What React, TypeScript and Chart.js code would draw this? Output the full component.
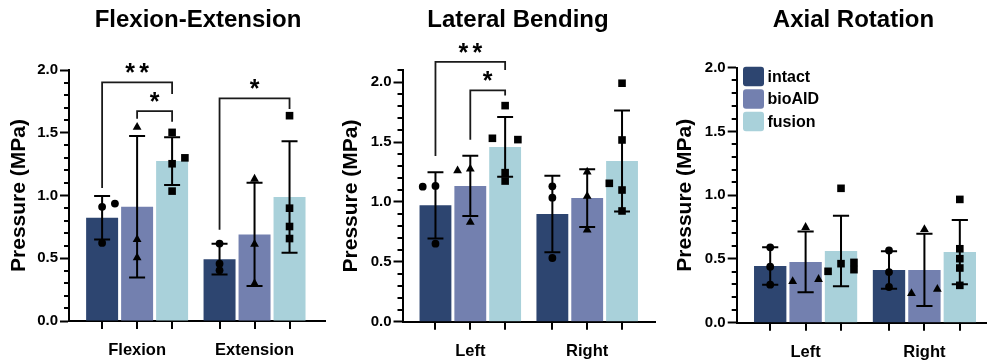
import React, { useEffect, useRef } from 'react';
import { Chart, registerables } from 'chart.js';

Chart.register(...registerables);

const FONT = "'Liberation Sans', Arial, Helvetica, sans-serif";
const INK = '#000000';

// Groups shared by every panel
const groupNames = ['intact', 'bioAID', 'fusion'];
const groupColors = ['#2D4570', '#7380AF', '#A9D1DA'];

// ---------- Flexion-Extension ----------
const feCategories = ['Flexion', 'Extension'];
const feIntactMean = [0.823, 0.493];
const feIntactSd = [0.174, 0.122];
const feBioMean = [0.91, 0.69];
const feBioSd = [0.564, 0.412];
const feFusionMean = [1.274, 0.988];
const feFusionSd = [0.19, 0.444];
const feIntactPoints = [[0.91, 0.936, 0.622], [0.617, 0.457, 0.404]];
const feIntactSide = [[0, 1, 0], [0, 0, 0]];
const feBioPoints = [[1.55, 0.654, 0.51], [1.136, 0.617, 0.303]];
const feBioSide = [[0, 0, 0], [0, 0, 0]];
const feFusionPoints = [[1.503, 1.3, 1.253, 1.035], [1.636, 0.899, 0.753, 0.657]];
const feFusionSide = [[0, 1, 0, 0], [0, 0, 0, 0]];
const feBrackets = [
  { group: 0, from: 0, to: 2, level: 1.902, fromEnd: 1.06, toEnd: 1.809, label: '**' },
  { group: 0, from: 1, to: 2, level: 1.673, fromEnd: 1.612, toEnd: 1.588, label: '*' },
  { group: 1, from: 0, to: 2, level: 1.774, fromEnd: 0.727, toEnd: 1.69, label: '*' },
];

// ---------- Lateral Bending ----------
const lbCategories = ['Left', 'Right'];
const lbIntactMean = [0.972, 0.9];
const lbIntactSd = [0.276, 0.32];
const lbBioMean = [1.134, 1.033];
const lbBioSd = [0.252, 0.241];
const lbFusionMean = [1.46, 1.342];
const lbFusionSd = [0.25, 0.422];
const lbIntactPoints = [[1.128, 1.134, 0.652], [1.131, 1.036, 0.532]];
const lbIntactSide = [[-1, 0, 0], [0, 0, 0]];
const lbBioPoints = [[1.267, 1.281, 0.836], [1.256, 1.053, 0.772]];
const lbBioSide = [[-1, 0, 0], [0, 0, 0]];
const lbFusionPoints = [[1.805, 1.532, 1.521, 1.245, 1.175], [1.992, 1.518, 1.156, 1.1, 0.925]];
const lbFusionSide = [[0, -1, 1, 0, 0], [0, 0, -1, 0, 0]];
const lbBrackets = [
  { group: 0, from: 0, to: 2, level: 2.17, fromEnd: 1.384, toEnd: 2.103, label: '**' },
  { group: 0, from: 1, to: 2, level: 1.933, fromEnd: 1.52, toEnd: 1.89, label: '*' },
];

// ---------- Axial Rotation ----------
const arCategories = ['Left', 'Right'];
const arIntactMean = [0.444, 0.414];
const arIntactSd = [0.147, 0.147];
const arBioMean = [0.477, 0.414];
const arBioSd = [0.238, 0.283];
const arFusionMean = [0.562, 0.554];
const arFusionSd = [0.277, 0.252];
const arIntactPoints = [[0.591, 0.439, 0.298], [0.567, 0.397, 0.28]];
const arIntactSide = [[0, 0, 0], [0, 0, 0]];
const arBioPoints = [[0.753, 0.329, 0.345], [0.737, 0.235, 0.267]];
const arBioSide = [[0, -1, 1], [0, -1, 1]];
const arFusionPoints = [[1.054, 0.403, 0.463, 0.473, 0.416], [0.967, 0.58, 0.502, 0.429, 0.293]];
const arFusionSide = [[0, -1, 0, 1, 1], [0, 0, 0, 0, 0]];
const arBrackets: Bracket[] = [];

type Bracket = { group: number; from: number; to: number; level: number; fromEnd: number; toEnd: number; label: string };
type Series = { mean: number[]; sd: number[]; points: number[][]; side: number[][] };
type Panel = {
  title: string;
  categories: string[];
  series: Series[];
  brackets: Bracket[];
  yMax: number;
  xMax: number;
  showLegend: boolean;
  // layout of the canvas
  canvasLeft: number;
  canvasWidth: number;
  areaTop: number;
  areaBottom: number;
  yAxisWidth: number;
  padRight: number;
  titleX: number;
};

const panels: Panel[] = [
  {
    title: 'Flexion-Extension',
    categories: feCategories,
    series: [
      { mean: feIntactMean, sd: feIntactSd, points: feIntactPoints, side: feIntactSide },
      { mean: feBioMean, sd: feBioSd, points: feBioPoints, side: feBioSide },
      { mean: feFusionMean, sd: feFusionSd, points: feFusionPoints, side: feFusionSide },
    ],
    brackets: feBrackets,
    yMax: 2.0,
    xMax: 1.6,
    showLegend: false,
    canvasLeft: 0,
    canvasWidth: 330,
    areaTop: 70,
    areaBottom: 321,
    yAxisWidth: 69,
    padRight: 5,
    titleX: 198,
  },
  {
    title: 'Lateral Bending',
    categories: lbCategories,
    series: [
      { mean: lbIntactMean, sd: lbIntactSd, points: lbIntactPoints, side: lbIntactSide },
      { mean: lbBioMean, sd: lbBioSd, points: lbBioPoints, side: lbBioSide },
      { mean: lbFusionMean, sd: lbFusionSd, points: lbFusionPoints, side: lbFusionSide },
    ],
    brackets: lbBrackets,
    yMax: 2.1,
    xMax: 1.58,
    showLegend: false,
    canvasLeft: 332,
    canvasWidth: 328,
    areaTop: 70.3,
    areaBottom: 321.7,
    yAxisWidth: 70.5,
    padRight: 5,
    titleX: 186,
  },
  {
    title: 'Axial Rotation',
    categories: arCategories,
    series: [
      { mean: arIntactMean, sd: arIntactSd, points: arIntactPoints, side: arIntactSide },
      { mean: arBioMean, sd: arBioSd, points: arBioPoints, side: arBioSide },
      { mean: arFusionMean, sd: arFusionSd, points: arFusionPoints, side: arFusionSide },
    ],
    brackets: arBrackets,
    yMax: 2.0,
    xMax: 1.6,
    showLegend: true,
    canvasLeft: 666,
    canvasWidth: 334,
    areaTop: 67.7,
    areaBottom: 322.7,
    yAxisWidth: 70.7,
    padRight: 4.3,
    titleX: 187.5,
  },
];

const CANVAS_HEIGHT = 361;
const X_MIN = -0.58;

function drawMarker(ctx: CanvasRenderingContext2D, kind: number, x: number, y: number) {
  ctx.beginPath();
  if (kind === 0) {
    ctx.arc(x, y, 3.9, 0, Math.PI * 2);
  } else if (kind === 1) {
    ctx.moveTo(x, y - 4.6);
    ctx.lineTo(x + 4.4, y + 3.2);
    ctx.lineTo(x - 4.4, y + 3.2);
    ctx.closePath();
  } else {
    ctx.rect(x - 3.8, y - 3.8, 7.6, 7.6);
  }
  ctx.fill();
}

function overlayPlugin(p: Panel) {
  return {
    id: 'panelOverlay',
    afterDraw(chart: any) {
      const ctx: CanvasRenderingContext2D = chart.ctx;
      const area = chart.chartArea;
      const yS = chart.scales.y;
      ctx.save();
      ctx.strokeStyle = INK;
      ctx.fillStyle = INK;
      ctx.lineWidth = 2;
      ctx.lineCap = 'butt';

      // minor ticks on the value axis
      const steps = Math.round(p.yMax / 0.1);
      for (let k = 1; k <= steps; k++) {
        if (k % 5 === 0) continue;
        const y = Math.round(yS.getPixelForValue(k / 10));
        ctx.beginPath();
        ctx.moveTo(area.left - 5, y);
        ctx.lineTo(area.left, y);
        ctx.stroke();
      }

      // one tick under every bar
      p.series.forEach((_, si) => {
        const meta = chart.getDatasetMeta(si);
        meta.data.forEach((bar: any) => {
          const x = Math.round(bar.x);
          ctx.beginPath();
          ctx.moveTo(x, area.bottom);
          ctx.lineTo(x, area.bottom + 8);
          ctx.stroke();
        });
      });

      // mean +/- SD error bars
      p.series.forEach((s, si) => {
        const meta = chart.getDatasetMeta(si);
        meta.data.forEach((bar: any, ci: number) => {
          const x = bar.x;
          const half = bar.width * 0.25;
          const yTop = yS.getPixelForValue(s.mean[ci] + s.sd[ci]);
          const yBot = yS.getPixelForValue(s.mean[ci] - s.sd[ci]);
          ctx.beginPath();
          ctx.moveTo(x, yTop);
          ctx.lineTo(x, yBot);
          ctx.moveTo(x - half, yTop);
          ctx.lineTo(x + half, yTop);
          ctx.moveTo(x - half, yBot);
          ctx.lineTo(x + half, yBot);
          ctx.stroke();
        });
      });

      // individual specimens
      p.series.forEach((s, si) => {
        const meta = chart.getDatasetMeta(si);
        meta.data.forEach((bar: any, ci: number) => {
          s.points[ci].forEach((v, k) => {
            const x = bar.x + s.side[ci][k] * bar.width * 0.4;
            drawMarker(ctx, si, x, yS.getPixelForValue(v));
          });
        });
      });

      // significance brackets
      ctx.strokeStyle = '#1a1a1a';
      ctx.lineWidth = 1.8;
      p.brackets.forEach((b) => {
        const x1 = chart.getDatasetMeta(b.from).data[b.group].x;
        const x2 = chart.getDatasetMeta(b.to).data[b.group].x;
        const yL = yS.getPixelForValue(b.level);
        ctx.beginPath();
        ctx.moveTo(x1, yS.getPixelForValue(b.fromEnd));
        ctx.lineTo(x1, yL);
        ctx.lineTo(x2, yL);
        ctx.lineTo(x2, yS.getPixelForValue(b.toEnd));
        ctx.stroke();
        ctx.font = `bold 25px ${FONT}`;
        ctx.textAlign = 'center';
        ctx.textBaseline = 'alphabetic';
        const pitch = 14;
        const mid = (x1 + x2) / 2;
        const n = b.label.length;
        for (let i = 0; i < n; i++) {
          ctx.fillText(b.label[i], mid + (i - (n - 1) / 2) * pitch, yL - 1);
        }
      });

      // legend
      if (p.showLegend) {
        ctx.font = `bold 16px ${FONT}`;
        ctx.textAlign = 'left';
        ctx.textBaseline = 'middle';
        chart.data.datasets.forEach((ds: any, i: number) => {
          const bx = area.left + 6.3;
          const by = area.top - 1 + i * 22.5;
          ctx.fillStyle = ds.backgroundColor;
          ctx.beginPath();
          (ctx as any).roundRect(bx, by, 21, 19.5, 3);
          ctx.fill();
          ctx.fillStyle = INK;
          ctx.fillText(ds.label, bx + 24.5, by + 10.5);
        });
      }

      // panel title
      ctx.fillStyle = INK;
      ctx.font = `bold 24px ${FONT}`;
      ctx.textAlign = 'center';
      ctx.textBaseline = 'alphabetic';
      ctx.fillText(p.title, p.titleX, 26.7);

      ctx.restore();
    },
  };
}

function makeConfig(p: Panel): any {
  return {
    type: 'bar',
    data: {
      datasets: p.series.map((s, si) => ({
        label: groupNames[si],
        data: p.categories.map((_, ci) => ({ x: ci, y: s.mean[ci] })),
        backgroundColor: groupColors[si],
        borderWidth: 0,
        categoryPercentage: 0.894,
        barPercentage: 0.914,
      })),
    },
    options: {
      animation: false,
      responsive: false,
      maintainAspectRatio: false,
      events: [],
      layout: { padding: { top: p.areaTop, right: p.padRight, left: 0, bottom: 0 } },
      plugins: {
        legend: { display: false },
        tooltip: { enabled: false },
        title: { display: false },
      },
      scales: {
        x: {
          type: 'linear',
          offset: false,
          min: X_MIN,
          max: p.xMax,
          z: 1,
          afterBuildTicks: (scale: any) => {
            scale.ticks = p.categories.map((_, i) => ({ value: i }));
          },
          afterFit: (scale: any) => {
            scale.height = CANVAS_HEIGHT - p.areaBottom;
          },
          grid: { display: false, drawTicks: false, offset: false },
          border: { display: true, color: INK, width: 2 },
          ticks: {
            autoSkip: false,
            maxRotation: 0,
            padding: 20,
            color: INK,
            font: { family: FONT, size: 16.5, weight: 'bold' },
            callback: (v: number) => p.categories[Math.round(v)] ?? '',
          },
        },
        y: {
          type: 'linear',
          min: 0,
          max: p.yMax,
          z: 1,
          afterBuildTicks: (scale: any) => {
            const t = [];
            for (let v = 0; v <= p.yMax + 1e-9; v += 0.5) t.push({ value: Math.round(v * 10) / 10 });
            scale.ticks = t;
          },
          afterFit: (scale: any) => {
            scale.width = p.yAxisWidth;
          },
          grid: { drawOnChartArea: false, drawTicks: true, tickLength: 9, tickWidth: 2, tickColor: INK },
          border: { display: true, color: INK, width: 2 },
          ticks: {
            padding: 2,
            color: INK,
            font: { family: FONT, size: 15, weight: 'bold' },
            callback: (v: number) => Number(v).toFixed(1),
          },
          title: {
            display: true,
            text: 'Pressure (MPa)',
            color: INK,
            font: { family: FONT, size: 21, weight: 'bold' },
            padding: { top: 7, bottom: 0 },
          },
        },
      },
    },
    plugins: [overlayPlugin(p)],
  };
}

function PanelChart({ spec }: { spec: Panel }) {
  const ref = useRef<HTMLCanvasElement>(null);
  useEffect(() => {
    const chart = new Chart(ref.current as HTMLCanvasElement, makeConfig(spec));
    return () => chart.destroy();
  }, [spec]);
  return (
    <canvas
      ref={ref}
      width={spec.canvasWidth}
      height={CANVAS_HEIGHT}
      style={{ position: 'absolute', left: spec.canvasLeft, top: 0, width: spec.canvasWidth, height: CANVAS_HEIGHT }}
    />
  );
}

export default function App() {
  return (
    <div
      style={{
        position: 'absolute',
        left: 0,
        top: 0,
        width: 987,
        height: CANVAS_HEIGHT,
        overflow: 'hidden',
        background: '#ffffff',
      }}
    >
      {panels.map((p) => (
        <PanelChart key={p.title} spec={p} />
      ))}
    </div>
  );
}
